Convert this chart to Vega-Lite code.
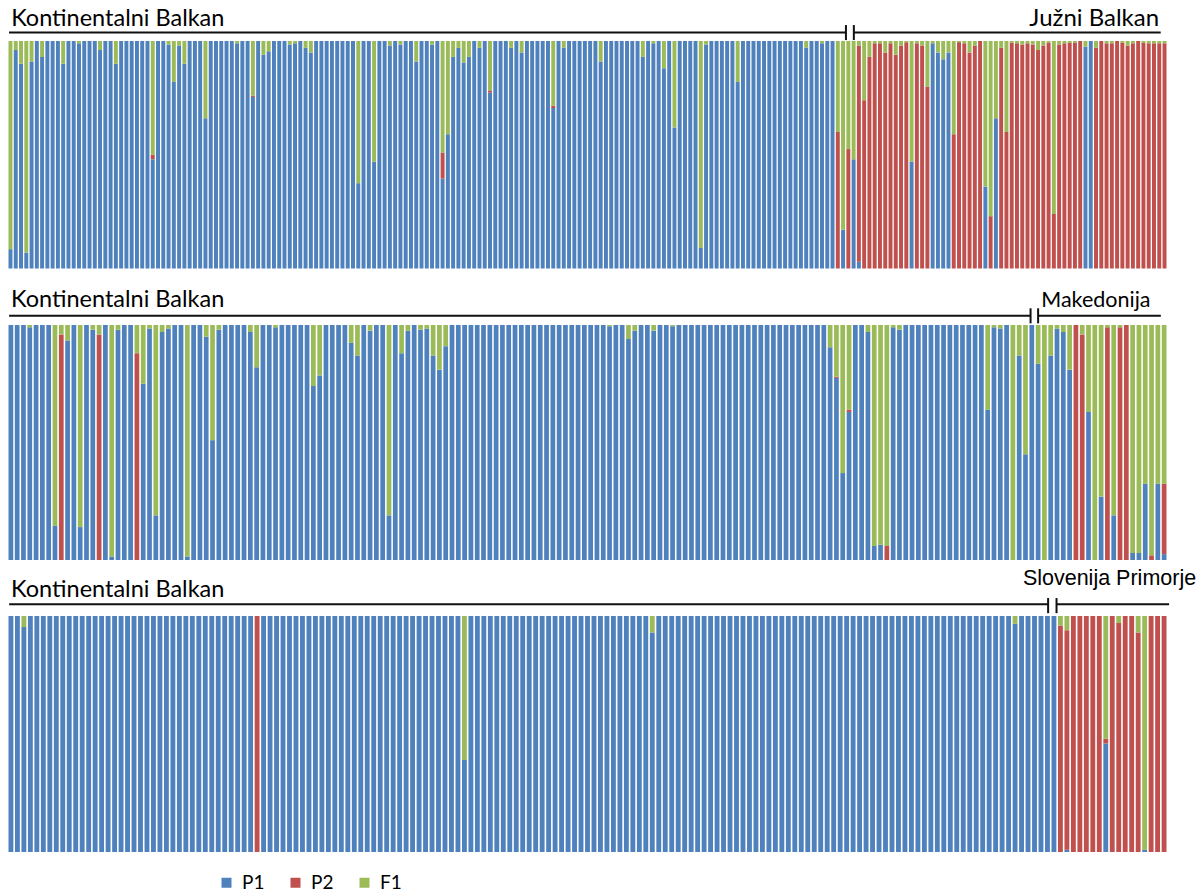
{
"$schema":"https://vega.github.io/schema/vega-lite/v6.json",
"background":"white",
"padding":{"left":7.5,"top":7,"right":0,"bottom":0},
"bounds":"flush",
"spacing":56,
"config":{"view":{"stroke":null}},
"datasets":{
"rank":[{"k":"P1","r":1},{"k":"P2","r":2},{"k":"F1","r":3}],
"groups":[
{"p":1,"g":"Kontinentalni Balkan","from":0.1,"to":159.1},
{"p":1,"g":"Južni Balkan","from":160.6,"to":218.9},
{"p":2,"g":"Kontinentalni Balkan","from":0.1,"to":162.4},
{"p":2,"g":"Makedonija","from":163.6,"to":183.1},
{"p":3,"g":"Kontinentalni Balkan","from":0.1,"to":160.7},
{"p":3,"g":"Slovenija Primorje","from":162.0,"to":179.4}
],
"p1":[
{"i":0,"P1":0.085,"P2":0,"F1":0.915},{"i":1,"P1":0.96,"P2":0,"F1":0.04},{"i":2,"P1":0.9,"P2":0,"F1":0.1},{"i":3,"P1":0.07,"P2":0,"F1":0.93},{"i":4,"P1":0.91,"P2":0,"F1":0.09},
{"i":5,"P1":1,"P2":0,"F1":0},{"i":6,"P1":0.93,"P2":0,"F1":0.07},{"i":7,"P1":1,"P2":0,"F1":0},{"i":8,"P1":1,"P2":0,"F1":0},{"i":9,"P1":1,"P2":0,"F1":0},
{"i":10,"P1":0.9,"P2":0,"F1":0.1},{"i":11,"P1":1,"P2":0,"F1":0},{"i":12,"P1":1,"P2":0,"F1":0},{"i":13,"P1":0.99,"P2":0,"F1":0.01},{"i":14,"P1":1,"P2":0,"F1":0},
{"i":15,"P1":1,"P2":0,"F1":0},{"i":16,"P1":1,"P2":0,"F1":0},{"i":17,"P1":0.96,"P2":0,"F1":0.04},{"i":18,"P1":1,"P2":0,"F1":0},{"i":19,"P1":1,"P2":0,"F1":0},
{"i":20,"P1":0.9,"P2":0,"F1":0.1},{"i":21,"P1":1,"P2":0,"F1":0},{"i":22,"P1":1,"P2":0,"F1":0},{"i":23,"P1":1,"P2":0,"F1":0},{"i":24,"P1":1,"P2":0,"F1":0},
{"i":25,"P1":1,"P2":0,"F1":0},{"i":26,"P1":1,"P2":0,"F1":0},{"i":27,"P1":0.48,"P2":0.02,"F1":0.5},{"i":28,"P1":1,"P2":0,"F1":0},{"i":29,"P1":1,"P2":0,"F1":0},
{"i":30,"P1":0.985,"P2":0,"F1":0.015},{"i":31,"P1":0.82,"P2":0,"F1":0.18},{"i":32,"P1":0.98,"P2":0,"F1":0.02},{"i":33,"P1":0.9,"P2":0,"F1":0.1},{"i":34,"P1":1,"P2":0,"F1":0},
{"i":35,"P1":1,"P2":0,"F1":0},{"i":36,"P1":1,"P2":0,"F1":0},{"i":37,"P1":0.66,"P2":0,"F1":0.34},{"i":38,"P1":1,"P2":0,"F1":0},{"i":39,"P1":1,"P2":0,"F1":0},
{"i":40,"P1":1,"P2":0,"F1":0},{"i":41,"P1":1,"P2":0,"F1":0},{"i":42,"P1":1,"P2":0,"F1":0},{"i":43,"P1":0.99,"P2":0,"F1":0.01},{"i":44,"P1":1,"P2":0,"F1":0},
{"i":45,"P1":1,"P2":0,"F1":0},{"i":46,"P1":0.754,"P2":0.006,"F1":0.24},{"i":47,"P1":1,"P2":0,"F1":0},{"i":48,"P1":0.94,"P2":0,"F1":0.06},{"i":49,"P1":0.955,"P2":0,"F1":0.045},
{"i":50,"P1":1,"P2":0,"F1":0},{"i":51,"P1":1,"P2":0,"F1":0},{"i":52,"P1":1,"P2":0,"F1":0},{"i":53,"P1":0.985,"P2":0,"F1":0.015},{"i":54,"P1":0.99,"P2":0,"F1":0.01},
{"i":55,"P1":1,"P2":0,"F1":0},{"i":56,"P1":0.97,"P2":0,"F1":0.03},{"i":57,"P1":0.95,"P2":0,"F1":0.05},{"i":58,"P1":1,"P2":0,"F1":0},{"i":59,"P1":1,"P2":0,"F1":0},
{"i":60,"P1":1,"P2":0,"F1":0},{"i":61,"P1":1,"P2":0,"F1":0},{"i":62,"P1":1,"P2":0,"F1":0},{"i":63,"P1":1,"P2":0,"F1":0},{"i":64,"P1":1,"P2":0,"F1":0},
{"i":65,"P1":1,"P2":0,"F1":0},{"i":66,"P1":0.375,"P2":0,"F1":0.625},{"i":67,"P1":1,"P2":0,"F1":0},{"i":68,"P1":1,"P2":0,"F1":0},{"i":69,"P1":0.47,"P2":0,"F1":0.53},
{"i":70,"P1":1,"P2":0,"F1":0},{"i":71,"P1":1,"P2":0,"F1":0},{"i":72,"P1":0.98,"P2":0,"F1":0.02},{"i":73,"P1":1,"P2":0,"F1":0},{"i":74,"P1":0.985,"P2":0,"F1":0.015},
{"i":75,"P1":1,"P2":0,"F1":0},{"i":76,"P1":1,"P2":0,"F1":0},{"i":77,"P1":0.91,"P2":0,"F1":0.09},{"i":78,"P1":1,"P2":0,"F1":0},{"i":79,"P1":1,"P2":0,"F1":0},
{"i":80,"P1":0.985,"P2":0,"F1":0.015},{"i":81,"P1":1,"P2":0,"F1":0},{"i":82,"P1":0.395,"P2":0.115,"F1":0.49},{"i":83,"P1":0.59,"P2":0,"F1":0.41},{"i":84,"P1":0.93,"P2":0,"F1":0.07},
{"i":85,"P1":0.97,"P2":0,"F1":0.03},{"i":86,"P1":0.905,"P2":0,"F1":0.095},{"i":87,"P1":0.93,"P2":0,"F1":0.07},{"i":88,"P1":1,"P2":0,"F1":0},{"i":89,"P1":0.97,"P2":0,"F1":0.03},
{"i":90,"P1":1,"P2":0,"F1":0},{"i":91,"P1":0.773,"P2":0.01,"F1":0.217},{"i":92,"P1":1,"P2":0,"F1":0},{"i":93,"P1":1,"P2":0,"F1":0},{"i":94,"P1":1,"P2":0,"F1":0},
{"i":95,"P1":0.97,"P2":0,"F1":0.03},{"i":96,"P1":1,"P2":0,"F1":0},{"i":97,"P1":0.95,"P2":0,"F1":0.05},{"i":98,"P1":1,"P2":0,"F1":0},{"i":99,"P1":1,"P2":0,"F1":0},
{"i":100,"P1":1,"P2":0,"F1":0},{"i":101,"P1":1,"P2":0,"F1":0},{"i":102,"P1":1,"P2":0,"F1":0},{"i":103,"P1":0.705,"P2":0.01,"F1":0.285},{"i":104,"P1":1,"P2":0,"F1":0},
{"i":105,"P1":0.97,"P2":0,"F1":0.03},{"i":106,"P1":1,"P2":0,"F1":0},{"i":107,"P1":1,"P2":0,"F1":0},{"i":108,"P1":1,"P2":0,"F1":0},{"i":109,"P1":1,"P2":0,"F1":0},
{"i":110,"P1":1,"P2":0,"F1":0},{"i":111,"P1":1,"P2":0,"F1":0},{"i":112,"P1":0.91,"P2":0,"F1":0.09},{"i":113,"P1":1,"P2":0,"F1":0},{"i":114,"P1":1,"P2":0,"F1":0},
{"i":115,"P1":1,"P2":0,"F1":0},{"i":116,"P1":1,"P2":0,"F1":0},{"i":117,"P1":1,"P2":0,"F1":0},{"i":118,"P1":1,"P2":0,"F1":0},{"i":119,"P1":1,"P2":0,"F1":0},
{"i":120,"P1":0.93,"P2":0,"F1":0.07},{"i":121,"P1":1,"P2":0,"F1":0},{"i":122,"P1":0.99,"P2":0,"F1":0.01},{"i":123,"P1":1,"P2":0,"F1":0},{"i":124,"P1":0.88,"P2":0,"F1":0.12},
{"i":125,"P1":1,"P2":0,"F1":0},{"i":126,"P1":0.62,"P2":0,"F1":0.38},{"i":127,"P1":1,"P2":0,"F1":0},{"i":128,"P1":1,"P2":0,"F1":0},{"i":129,"P1":1,"P2":0,"F1":0},
{"i":130,"P1":1,"P2":0,"F1":0},{"i":131,"P1":0.09,"P2":0,"F1":0.91},{"i":132,"P1":0.985,"P2":0,"F1":0.015},{"i":133,"P1":1,"P2":0,"F1":0},{"i":134,"P1":1,"P2":0,"F1":0},
{"i":135,"P1":1,"P2":0,"F1":0},{"i":136,"P1":1,"P2":0,"F1":0},{"i":137,"P1":1,"P2":0,"F1":0},{"i":138,"P1":0.82,"P2":0,"F1":0.18},{"i":139,"P1":1,"P2":0,"F1":0},
{"i":140,"P1":1,"P2":0,"F1":0},{"i":141,"P1":1,"P2":0,"F1":0},{"i":142,"P1":1,"P2":0,"F1":0},{"i":143,"P1":1,"P2":0,"F1":0},{"i":144,"P1":1,"P2":0,"F1":0},
{"i":145,"P1":1,"P2":0,"F1":0},{"i":146,"P1":1,"P2":0,"F1":0},{"i":147,"P1":1,"P2":0,"F1":0},{"i":148,"P1":1,"P2":0,"F1":0},{"i":149,"P1":1,"P2":0,"F1":0},
{"i":150,"P1":1,"P2":0,"F1":0},{"i":151,"P1":0.97,"P2":0,"F1":0.03},{"i":152,"P1":1,"P2":0,"F1":0},{"i":153,"P1":1,"P2":0,"F1":0},{"i":154,"P1":0.99,"P2":0,"F1":0.01},
{"i":155,"P1":1,"P2":0,"F1":0},{"i":156,"P1":1,"P2":0,"F1":0},{"i":157,"P1":0,"P2":0.6,"F1":0.4},{"i":158,"P1":0.17,"P2":0,"F1":0.83},{"i":159,"P1":0,"P2":0.525,"F1":0.475},
{"i":160,"P1":0.48,"P2":0,"F1":0.52},{"i":161,"P1":0.03,"P2":0.95,"F1":0.02},{"i":162,"P1":0,"P2":0.74,"F1":0.26},{"i":163,"P1":0,"P2":0.93,"F1":0.07},{"i":164,"P1":0,"P2":0.99,"F1":0.01},
{"i":165,"P1":0,"P2":0.99,"F1":0.01},{"i":166,"P1":0,"P2":0.95,"F1":0.05},{"i":167,"P1":0,"P2":0.99,"F1":0.01},{"i":168,"P1":0,"P2":0.94,"F1":0.06},{"i":169,"P1":0,"P2":0.98,"F1":0.02},
{"i":170,"P1":0,"P2":0.995,"F1":0.005},{"i":171,"P1":0.47,"P2":0,"F1":0.53},{"i":172,"P1":0,"P2":0.99,"F1":0.01},{"i":173,"P1":0,"P2":0.98,"F1":0.02},{"i":174,"P1":0,"P2":0.8,"F1":0.2},
{"i":175,"P1":0.99,"P2":0,"F1":0.01},{"i":176,"P1":0.95,"P2":0,"F1":0.05},{"i":177,"P1":0.92,"P2":0,"F1":0.08},{"i":178,"P1":0.95,"P2":0,"F1":0.05},{"i":179,"P1":0,"P2":0.59,"F1":0.41},
{"i":180,"P1":0,"P2":0.995,"F1":0.005},{"i":181,"P1":0,"P2":0.99,"F1":0.01},{"i":182,"P1":0,"P2":0.95,"F1":0.05},{"i":183,"P1":0,"P2":0.98,"F1":0.02},{"i":184,"P1":0,"P2":1,"F1":0},
{"i":185,"P1":0.36,"P2":0,"F1":0.64},{"i":186,"P1":0,"P2":0.23,"F1":0.77},{"i":187,"P1":0.66,"P2":0,"F1":0.34},{"i":188,"P1":0,"P2":0.97,"F1":0.03},{"i":189,"P1":0,"P2":0.6,"F1":0.4},
{"i":190,"P1":0,"P2":0.993,"F1":0.007},{"i":191,"P1":0,"P2":0.99,"F1":0.01},{"i":192,"P1":0,"P2":0.985,"F1":0.015},{"i":193,"P1":0,"P2":0.99,"F1":0.01},{"i":194,"P1":0,"P2":0.985,"F1":0.015},
{"i":195,"P1":0,"P2":0.96,"F1":0.04},{"i":196,"P1":0,"P2":0.98,"F1":0.02},{"i":197,"P1":0,"P2":0.993,"F1":0.007},{"i":198,"P1":0,"P2":0.24,"F1":0.76},{"i":199,"P1":0,"P2":0.985,"F1":0.015},
{"i":200,"P1":0,"P2":0.99,"F1":0.01},{"i":201,"P1":0,"P2":0.993,"F1":0.007},{"i":202,"P1":0,"P2":0.993,"F1":0.007},{"i":203,"P1":0,"P2":1,"F1":0},{"i":204,"P1":0.975,"P2":0,"F1":0.025},
{"i":205,"P1":1,"P2":0,"F1":0},{"i":206,"P1":0,"P2":0.97,"F1":0.03},{"i":207,"P1":0,"P2":1,"F1":0},{"i":208,"P1":0,"P2":0.99,"F1":0.01},{"i":209,"P1":0,"P2":0.99,"F1":0.01},
{"i":210,"P1":0,"P2":1,"F1":0},{"i":211,"P1":0,"P2":0.993,"F1":0.007},{"i":212,"P1":0,"P2":0.98,"F1":0.02},{"i":213,"P1":0,"P2":0.99,"F1":0.01},{"i":214,"P1":0,"P2":1,"F1":0},
{"i":215,"P1":0,"P2":0.993,"F1":0.007},{"i":216,"P1":0,"P2":0.99,"F1":0.01},{"i":217,"P1":0,"P2":0.99,"F1":0.01},{"i":218,"P1":0,"P2":0.99,"F1":0.01},{"i":219,"P1":0,"P2":0.99,"F1":0.01}
],
"p2":[
{"i":0,"P1":1,"P2":0,"F1":0},{"i":1,"P1":1,"P2":0,"F1":0},{"i":2,"P1":1,"P2":0,"F1":0},{"i":3,"P1":0.99,"P2":0,"F1":0.01},{"i":4,"P1":1,"P2":0,"F1":0},
{"i":5,"P1":1,"P2":0,"F1":0},{"i":6,"P1":1,"P2":0,"F1":0},{"i":7,"P1":0.146,"P2":0,"F1":0.854},{"i":8,"P1":0,"P2":0.96,"F1":0.04},{"i":9,"P1":0.934,"P2":0,"F1":0.066},
{"i":10,"P1":1,"P2":0,"F1":0},{"i":11,"P1":0.14,"P2":0,"F1":0.86},{"i":12,"P1":1,"P2":0,"F1":0},{"i":13,"P1":0.98,"P2":0,"F1":0.02},{"i":14,"P1":0,"P2":0.96,"F1":0.04},
{"i":15,"P1":1,"P2":0,"F1":0},{"i":16,"P1":0.015,"P2":0,"F1":0.985},{"i":17,"P1":0.98,"P2":0,"F1":0.02},{"i":18,"P1":1,"P2":0,"F1":0},{"i":19,"P1":1,"P2":0,"F1":0},
{"i":20,"P1":0,"P2":0.88,"F1":0.12},{"i":21,"P1":0.75,"P2":0,"F1":0.25},{"i":22,"P1":0.985,"P2":0,"F1":0.015},{"i":23,"P1":0.19,"P2":0,"F1":0.81},{"i":24,"P1":0.97,"P2":0,"F1":0.03},
{"i":25,"P1":0.985,"P2":0,"F1":0.015},{"i":26,"P1":1,"P2":0,"F1":0},{"i":27,"P1":1,"P2":0,"F1":0},{"i":28,"P1":0.015,"P2":0,"F1":0.985},{"i":29,"P1":1,"P2":0,"F1":0},
{"i":30,"P1":1,"P2":0,"F1":0},{"i":31,"P1":0.95,"P2":0,"F1":0.05},{"i":32,"P1":0.51,"P2":0,"F1":0.49},{"i":33,"P1":0.98,"P2":0,"F1":0.02},{"i":34,"P1":1,"P2":0,"F1":0},
{"i":35,"P1":1,"P2":0,"F1":0},{"i":36,"P1":1,"P2":0,"F1":0},{"i":37,"P1":1,"P2":0,"F1":0},{"i":38,"P1":0.97,"P2":0,"F1":0.03},{"i":39,"P1":0.82,"P2":0,"F1":0.18},
{"i":40,"P1":1,"P2":0,"F1":0},{"i":41,"P1":1,"P2":0,"F1":0},{"i":42,"P1":0.99,"P2":0,"F1":0.01},{"i":43,"P1":1,"P2":0,"F1":0},{"i":44,"P1":1,"P2":0,"F1":0},
{"i":45,"P1":1,"P2":0,"F1":0},{"i":46,"P1":1,"P2":0,"F1":0},{"i":47,"P1":1,"P2":0,"F1":0},{"i":48,"P1":0.74,"P2":0,"F1":0.26},{"i":49,"P1":0.785,"P2":0,"F1":0.215},
{"i":50,"P1":1,"P2":0,"F1":0},{"i":51,"P1":1,"P2":0,"F1":0},{"i":52,"P1":1,"P2":0,"F1":0},{"i":53,"P1":1,"P2":0,"F1":0},{"i":54,"P1":0.924,"P2":0,"F1":0.076},
{"i":55,"P1":0.87,"P2":0,"F1":0.13},{"i":56,"P1":1,"P2":0,"F1":0},{"i":57,"P1":0.976,"P2":0,"F1":0.024},{"i":58,"P1":1,"P2":0,"F1":0},{"i":59,"P1":1,"P2":0,"F1":0},
{"i":60,"P1":0.19,"P2":0,"F1":0.81},{"i":61,"P1":1,"P2":0,"F1":0},{"i":62,"P1":0.88,"P2":0,"F1":0.12},{"i":63,"P1":0.975,"P2":0,"F1":0.025},{"i":64,"P1":1,"P2":0,"F1":0},
{"i":65,"P1":0.98,"P2":0,"F1":0.02},{"i":66,"P1":0.985,"P2":0,"F1":0.015},{"i":67,"P1":0.87,"P2":0,"F1":0.13},{"i":68,"P1":0.81,"P2":0,"F1":0.19},{"i":69,"P1":0.91,"P2":0,"F1":0.09},
{"i":70,"P1":1,"P2":0,"F1":0},{"i":71,"P1":1,"P2":0,"F1":0},{"i":72,"P1":1,"P2":0,"F1":0},{"i":73,"P1":1,"P2":0,"F1":0},{"i":74,"P1":1,"P2":0,"F1":0},
{"i":75,"P1":1,"P2":0,"F1":0},{"i":76,"P1":1,"P2":0,"F1":0},{"i":77,"P1":1,"P2":0,"F1":0},{"i":78,"P1":1,"P2":0,"F1":0},{"i":79,"P1":1,"P2":0,"F1":0},
{"i":80,"P1":1,"P2":0,"F1":0},{"i":81,"P1":1,"P2":0,"F1":0},{"i":82,"P1":1,"P2":0,"F1":0},{"i":83,"P1":1,"P2":0,"F1":0},{"i":84,"P1":1,"P2":0,"F1":0},
{"i":85,"P1":1,"P2":0,"F1":0},{"i":86,"P1":1,"P2":0,"F1":0},{"i":87,"P1":1,"P2":0,"F1":0},{"i":88,"P1":1,"P2":0,"F1":0},{"i":89,"P1":1,"P2":0,"F1":0},
{"i":90,"P1":1,"P2":0,"F1":0},{"i":91,"P1":1,"P2":0,"F1":0},{"i":92,"P1":1,"P2":0,"F1":0},{"i":93,"P1":1,"P2":0,"F1":0},{"i":94,"P1":1,"P2":0,"F1":0},
{"i":95,"P1":0.995,"P2":0,"F1":0.005},{"i":96,"P1":1,"P2":0,"F1":0},{"i":97,"P1":1,"P2":0,"F1":0},{"i":98,"P1":0.94,"P2":0,"F1":0.06},{"i":99,"P1":0.975,"P2":0,"F1":0.025},
{"i":100,"P1":1,"P2":0,"F1":0},{"i":101,"P1":1,"P2":0,"F1":0},{"i":102,"P1":0.976,"P2":0,"F1":0.024},{"i":103,"P1":1,"P2":0,"F1":0},{"i":104,"P1":1,"P2":0,"F1":0},
{"i":105,"P1":0.995,"P2":0,"F1":0.005},{"i":106,"P1":1,"P2":0,"F1":0},{"i":107,"P1":1,"P2":0,"F1":0},{"i":108,"P1":1,"P2":0,"F1":0},{"i":109,"P1":1,"P2":0,"F1":0},
{"i":110,"P1":1,"P2":0,"F1":0},{"i":111,"P1":1,"P2":0,"F1":0},{"i":112,"P1":1,"P2":0,"F1":0},{"i":113,"P1":1,"P2":0,"F1":0},{"i":114,"P1":1,"P2":0,"F1":0},
{"i":115,"P1":1,"P2":0,"F1":0},{"i":116,"P1":1,"P2":0,"F1":0},{"i":117,"P1":1,"P2":0,"F1":0},{"i":118,"P1":1,"P2":0,"F1":0},{"i":119,"P1":1,"P2":0,"F1":0},
{"i":120,"P1":1,"P2":0,"F1":0},{"i":121,"P1":1,"P2":0,"F1":0},{"i":122,"P1":1,"P2":0,"F1":0},{"i":123,"P1":1,"P2":0,"F1":0},{"i":124,"P1":1,"P2":0,"F1":0},
{"i":125,"P1":1,"P2":0,"F1":0},{"i":126,"P1":1,"P2":0,"F1":0},{"i":127,"P1":1,"P2":0,"F1":0},{"i":128,"P1":1,"P2":0,"F1":0},{"i":129,"P1":1,"P2":0,"F1":0},
{"i":130,"P1":0.905,"P2":0,"F1":0.095},{"i":131,"P1":0.775,"P2":0.005,"F1":0.22},{"i":132,"P1":0.37,"P2":0,"F1":0.63},{"i":133,"P1":0.63,"P2":0.01,"F1":0.36},{"i":134,"P1":1,"P2":0,"F1":0},
{"i":135,"P1":1,"P2":0,"F1":0},{"i":136,"P1":0.97,"P2":0,"F1":0.03},{"i":137,"P1":0.06,"P2":0,"F1":0.94},{"i":138,"P1":0.065,"P2":0,"F1":0.935},{"i":139,"P1":0,"P2":0.06,"F1":0.94},
{"i":140,"P1":0.99,"P2":0,"F1":0.01},{"i":141,"P1":0.98,"P2":0,"F1":0.02},{"i":142,"P1":1,"P2":0,"F1":0},{"i":143,"P1":1,"P2":0,"F1":0},{"i":144,"P1":1,"P2":0,"F1":0},
{"i":145,"P1":1,"P2":0,"F1":0},{"i":146,"P1":1,"P2":0,"F1":0},{"i":147,"P1":1,"P2":0,"F1":0},{"i":148,"P1":1,"P2":0,"F1":0},{"i":149,"P1":1,"P2":0,"F1":0},
{"i":150,"P1":1,"P2":0,"F1":0},{"i":151,"P1":1,"P2":0,"F1":0},{"i":152,"P1":1,"P2":0,"F1":0},{"i":153,"P1":1,"P2":0,"F1":0},{"i":154,"P1":1,"P2":0,"F1":0},
{"i":155,"P1":0.64,"P2":0,"F1":0.36},{"i":156,"P1":0.99,"P2":0,"F1":0.01},{"i":157,"P1":0.985,"P2":0,"F1":0.015},{"i":158,"P1":1,"P2":0,"F1":0},{"i":159,"P1":0,"P2":0,"F1":1},
{"i":160,"P1":0.87,"P2":0,"F1":0.13},{"i":161,"P1":0.45,"P2":0,"F1":0.55},{"i":162,"P1":1,"P2":0,"F1":0},{"i":163,"P1":0.835,"P2":0,"F1":0.165},{"i":164,"P1":0,"P2":0,"F1":1},
{"i":165,"P1":0.87,"P2":0,"F1":0.13},{"i":166,"P1":0.985,"P2":0,"F1":0.015},{"i":167,"P1":0.97,"P2":0,"F1":0.03},{"i":168,"P1":0.81,"P2":0,"F1":0.19},{"i":169,"P1":0,"P2":1,"F1":0},
{"i":170,"P1":0,"P2":0.96,"F1":0.04},{"i":171,"P1":0.63,"P2":0,"F1":0.37},{"i":172,"P1":0,"P2":0,"F1":1},{"i":173,"P1":0.27,"P2":0,"F1":0.73},{"i":174,"P1":0,"P2":0.99,"F1":0.01},
{"i":175,"P1":0.19,"P2":0,"F1":0.81},{"i":176,"P1":0,"P2":0.99,"F1":0.01},{"i":177,"P1":0,"P2":1,"F1":0},{"i":178,"P1":0.03,"P2":0,"F1":0.97},{"i":179,"P1":0.03,"P2":0,"F1":0.97},
{"i":180,"P1":0.325,"P2":0,"F1":0.675},{"i":181,"P1":0,"P2":0.02,"F1":0.98},{"i":182,"P1":0.325,"P2":0,"F1":0.675},{"i":183,"P1":0.025,"P2":0.3,"F1":0.675}
],
"p3":[
{"i":0,"P1":1,"P2":0,"F1":0},{"i":1,"P1":1,"P2":0,"F1":0},{"i":2,"P1":0.953,"P2":0,"F1":0.047},{"i":3,"P1":1,"P2":0,"F1":0},{"i":4,"P1":1,"P2":0,"F1":0},
{"i":5,"P1":1,"P2":0,"F1":0},{"i":6,"P1":1,"P2":0,"F1":0},{"i":7,"P1":1,"P2":0,"F1":0},{"i":8,"P1":1,"P2":0,"F1":0},{"i":9,"P1":1,"P2":0,"F1":0},
{"i":10,"P1":1,"P2":0,"F1":0},{"i":11,"P1":1,"P2":0,"F1":0},{"i":12,"P1":1,"P2":0,"F1":0},{"i":13,"P1":1,"P2":0,"F1":0},{"i":14,"P1":1,"P2":0,"F1":0},
{"i":15,"P1":1,"P2":0,"F1":0},{"i":16,"P1":1,"P2":0,"F1":0},{"i":17,"P1":1,"P2":0,"F1":0},{"i":18,"P1":1,"P2":0,"F1":0},{"i":19,"P1":1,"P2":0,"F1":0},
{"i":20,"P1":1,"P2":0,"F1":0},{"i":21,"P1":1,"P2":0,"F1":0},{"i":22,"P1":1,"P2":0,"F1":0},{"i":23,"P1":1,"P2":0,"F1":0},{"i":24,"P1":1,"P2":0,"F1":0},
{"i":25,"P1":1,"P2":0,"F1":0},{"i":26,"P1":1,"P2":0,"F1":0},{"i":27,"P1":1,"P2":0,"F1":0},{"i":28,"P1":1,"P2":0,"F1":0},{"i":29,"P1":1,"P2":0,"F1":0},
{"i":30,"P1":1,"P2":0,"F1":0},{"i":31,"P1":1,"P2":0,"F1":0},{"i":32,"P1":1,"P2":0,"F1":0},{"i":33,"P1":1,"P2":0,"F1":0},{"i":34,"P1":1,"P2":0,"F1":0},
{"i":35,"P1":1,"P2":0,"F1":0},{"i":36,"P1":1,"P2":0,"F1":0},{"i":37,"P1":1,"P2":0,"F1":0},{"i":38,"P1":0,"P2":1,"F1":0},{"i":39,"P1":1,"P2":0,"F1":0},
{"i":40,"P1":1,"P2":0,"F1":0},{"i":41,"P1":1,"P2":0,"F1":0},{"i":42,"P1":1,"P2":0,"F1":0},{"i":43,"P1":1,"P2":0,"F1":0},{"i":44,"P1":1,"P2":0,"F1":0},
{"i":45,"P1":1,"P2":0,"F1":0},{"i":46,"P1":1,"P2":0,"F1":0},{"i":47,"P1":1,"P2":0,"F1":0},{"i":48,"P1":1,"P2":0,"F1":0},{"i":49,"P1":1,"P2":0,"F1":0},
{"i":50,"P1":1,"P2":0,"F1":0},{"i":51,"P1":1,"P2":0,"F1":0},{"i":52,"P1":1,"P2":0,"F1":0},{"i":53,"P1":1,"P2":0,"F1":0},{"i":54,"P1":1,"P2":0,"F1":0},
{"i":55,"P1":1,"P2":0,"F1":0},{"i":56,"P1":1,"P2":0,"F1":0},{"i":57,"P1":1,"P2":0,"F1":0},{"i":58,"P1":1,"P2":0,"F1":0},{"i":59,"P1":1,"P2":0,"F1":0},
{"i":60,"P1":1,"P2":0,"F1":0},{"i":61,"P1":1,"P2":0,"F1":0},{"i":62,"P1":1,"P2":0,"F1":0},{"i":63,"P1":1,"P2":0,"F1":0},{"i":64,"P1":1,"P2":0,"F1":0},
{"i":65,"P1":1,"P2":0,"F1":0},{"i":66,"P1":1,"P2":0,"F1":0},{"i":67,"P1":1,"P2":0,"F1":0},{"i":68,"P1":1,"P2":0,"F1":0},{"i":69,"P1":1,"P2":0,"F1":0},
{"i":70,"P1":0.39,"P2":0,"F1":0.61},{"i":71,"P1":1,"P2":0,"F1":0},{"i":72,"P1":1,"P2":0,"F1":0},{"i":73,"P1":1,"P2":0,"F1":0},{"i":74,"P1":1,"P2":0,"F1":0},
{"i":75,"P1":1,"P2":0,"F1":0},{"i":76,"P1":1,"P2":0,"F1":0},{"i":77,"P1":1,"P2":0,"F1":0},{"i":78,"P1":1,"P2":0,"F1":0},{"i":79,"P1":1,"P2":0,"F1":0},
{"i":80,"P1":1,"P2":0,"F1":0},{"i":81,"P1":1,"P2":0,"F1":0},{"i":82,"P1":1,"P2":0,"F1":0},{"i":83,"P1":1,"P2":0,"F1":0},{"i":84,"P1":1,"P2":0,"F1":0},
{"i":85,"P1":1,"P2":0,"F1":0},{"i":86,"P1":1,"P2":0,"F1":0},{"i":87,"P1":1,"P2":0,"F1":0},{"i":88,"P1":1,"P2":0,"F1":0},{"i":89,"P1":1,"P2":0,"F1":0},
{"i":90,"P1":1,"P2":0,"F1":0},{"i":91,"P1":1,"P2":0,"F1":0},{"i":92,"P1":1,"P2":0,"F1":0},{"i":93,"P1":1,"P2":0,"F1":0},{"i":94,"P1":1,"P2":0,"F1":0},
{"i":95,"P1":1,"P2":0,"F1":0},{"i":96,"P1":1,"P2":0,"F1":0},{"i":97,"P1":1,"P2":0,"F1":0},{"i":98,"P1":1,"P2":0,"F1":0},{"i":99,"P1":0.93,"P2":0,"F1":0.07},
{"i":100,"P1":1,"P2":0,"F1":0},{"i":101,"P1":1,"P2":0,"F1":0},{"i":102,"P1":1,"P2":0,"F1":0},{"i":103,"P1":1,"P2":0,"F1":0},{"i":104,"P1":1,"P2":0,"F1":0},
{"i":105,"P1":1,"P2":0,"F1":0},{"i":106,"P1":1,"P2":0,"F1":0},{"i":107,"P1":1,"P2":0,"F1":0},{"i":108,"P1":1,"P2":0,"F1":0},{"i":109,"P1":1,"P2":0,"F1":0},
{"i":110,"P1":1,"P2":0,"F1":0},{"i":111,"P1":1,"P2":0,"F1":0},{"i":112,"P1":1,"P2":0,"F1":0},{"i":113,"P1":1,"P2":0,"F1":0},{"i":114,"P1":1,"P2":0,"F1":0},
{"i":115,"P1":1,"P2":0,"F1":0},{"i":116,"P1":1,"P2":0,"F1":0},{"i":117,"P1":1,"P2":0,"F1":0},{"i":118,"P1":1,"P2":0,"F1":0},{"i":119,"P1":1,"P2":0,"F1":0},
{"i":120,"P1":1,"P2":0,"F1":0},{"i":121,"P1":1,"P2":0,"F1":0},{"i":122,"P1":1,"P2":0,"F1":0},{"i":123,"P1":1,"P2":0,"F1":0},{"i":124,"P1":1,"P2":0,"F1":0},
{"i":125,"P1":1,"P2":0,"F1":0},{"i":126,"P1":1,"P2":0,"F1":0},{"i":127,"P1":1,"P2":0,"F1":0},{"i":128,"P1":1,"P2":0,"F1":0},{"i":129,"P1":1,"P2":0,"F1":0},
{"i":130,"P1":1,"P2":0,"F1":0},{"i":131,"P1":1,"P2":0,"F1":0},{"i":132,"P1":1,"P2":0,"F1":0},{"i":133,"P1":1,"P2":0,"F1":0},{"i":134,"P1":1,"P2":0,"F1":0},
{"i":135,"P1":1,"P2":0,"F1":0},{"i":136,"P1":1,"P2":0,"F1":0},{"i":137,"P1":1,"P2":0,"F1":0},{"i":138,"P1":1,"P2":0,"F1":0},{"i":139,"P1":1,"P2":0,"F1":0},
{"i":140,"P1":1,"P2":0,"F1":0},{"i":141,"P1":1,"P2":0,"F1":0},{"i":142,"P1":1,"P2":0,"F1":0},{"i":143,"P1":1,"P2":0,"F1":0},{"i":144,"P1":1,"P2":0,"F1":0},
{"i":145,"P1":1,"P2":0,"F1":0},{"i":146,"P1":1,"P2":0,"F1":0},{"i":147,"P1":1,"P2":0,"F1":0},{"i":148,"P1":1,"P2":0,"F1":0},{"i":149,"P1":1,"P2":0,"F1":0},
{"i":150,"P1":1,"P2":0,"F1":0},{"i":151,"P1":1,"P2":0,"F1":0},{"i":152,"P1":1,"P2":0,"F1":0},{"i":153,"P1":1,"P2":0,"F1":0},{"i":154,"P1":1,"P2":0,"F1":0},
{"i":155,"P1":0.967,"P2":0,"F1":0.033},{"i":156,"P1":1,"P2":0,"F1":0},{"i":157,"P1":1,"P2":0,"F1":0},{"i":158,"P1":1,"P2":0,"F1":0},{"i":159,"P1":1,"P2":0,"F1":0},
{"i":160,"P1":1,"P2":0,"F1":0},{"i":161,"P1":1,"P2":0,"F1":0},{"i":162,"P1":0,"P2":0.96,"F1":0.04},{"i":163,"P1":0.01,"P2":0.93,"F1":0.06},{"i":164,"P1":0,"P2":1,"F1":0},
{"i":165,"P1":0,"P2":1,"F1":0},{"i":166,"P1":0,"P2":1,"F1":0},{"i":167,"P1":0,"P2":1,"F1":0},{"i":168,"P1":0,"P2":1,"F1":0},{"i":169,"P1":0.46,"P2":0.02,"F1":0.52},
{"i":170,"P1":0,"P2":1,"F1":0},{"i":171,"P1":0,"P2":0.97,"F1":0.03},{"i":172,"P1":0,"P2":1,"F1":0},{"i":173,"P1":0,"P2":1,"F1":0},{"i":174,"P1":0,"P2":0.93,"F1":0.07},
{"i":175,"P1":0.01,"P2":0,"F1":0.99},{"i":176,"P1":0,"P2":1,"F1":0},{"i":177,"P1":0,"P2":1,"F1":0},{"i":178,"P1":0,"P2":1,"F1":0}
]
},
"vconcat":[
{
"width":1158,"height":227.5,
"resolve":{"scale":{"x":"independent"}},
"layer":[
{"data":{"name":"p1"},
"transform":[{"fold":["P1","P2","F1"],"as":["k","v"]},{"lookup":"k","from":{"data":{"name":"rank"},"key":"k","fields":["r"]}}],
"mark":{"type":"bar"},
"encoding":{
"x":{"field":"i","type":"ordinal","axis":null,"scale":{"paddingInner":0.25,"paddingOuter":0}},
"y":{"field":"v","type":"quantitative","stack":"zero","axis":null,"scale":{"domain":[0,1],"nice":false}},
"color":{"field":"k","type":"nominal","scale":{"domain":["P1","P2","F1"],"range":["#4F81BD","#C0504D","#9BBB59"]},"legend":{"orient":"none","legendX":208.5,"legendY":832,"direction":"horizontal","title":null,"symbolType":"square","symbolSize":100,"symbolStrokeWidth":0,"labelFont":"Lato","labelFontSize":19,"labelColor":"#000","columnPadding":21,"labelOffset":6}},
"order":{"field":"r","type":"quantitative"}}},
{"data":{"name":"groups"},"transform":[{"filter":"datum.p == 1"}],
"layer":[
{"mark":{"type":"rule","color":"#111","strokeWidth":2},"encoding":{"x":{"field":"from","type":"quantitative","axis":null,"scale":{"domain":[0,220],"nice":false,"zero":false}},"x2":{"field":"to"},"y":{"datum":1.037,"type":"quantitative","axis":null,"scale":{"domain":[0,1],"nice":false}}}},
{"transform":[{"filter":"datum.g == 'Kontinentalni Balkan'"}],"mark":{"type":"rule","color":"#111","strokeWidth":2},"encoding":{"x":{"field":"to","type":"quantitative","axis":null,"scale":{"domain":[0,220],"nice":false,"zero":false}},"y":{"datum":1.004,"type":"quantitative","axis":null,"scale":{"domain":[0,1],"nice":false}},"y2":{"datum":1.07}}},
{"transform":[{"filter":"datum.g != 'Kontinentalni Balkan'"}],"mark":{"type":"rule","color":"#111","strokeWidth":2},"encoding":{"x":{"field":"from","type":"quantitative","axis":null,"scale":{"domain":[0,220],"nice":false,"zero":false}},"y":{"datum":1.004,"type":"quantitative","axis":null,"scale":{"domain":[0,1],"nice":false}},"y2":{"datum":1.07}}},
{"transform":[{"filter":"datum.g == 'Kontinentalni Balkan'"}],"mark":{"type":"text","align":"left","baseline":"alphabetic","font":"Lato","fontSize":23.5,"color":"#000"},"encoding":{"x":{"datum":0.5,"type":"quantitative","axis":null,"scale":{"domain":[0,220],"nice":false,"zero":false}},"y":{"datum":1.0646,"type":"quantitative","axis":null,"scale":{"domain":[0,1],"nice":false}},"text":{"field":"g"}}},
{"transform":[{"filter":"datum.g != 'Kontinentalni Balkan'"}],"mark":{"type":"text","align":"right","baseline":"alphabetic","font":"Lato","fontSize":24,"color":"#000"},"encoding":{"x":{"datum":218.6,"type":"quantitative","axis":null,"scale":{"domain":[0,220],"nice":false,"zero":false}},"y":{"datum":1.0646,"type":"quantitative","axis":null,"scale":{"domain":[0,1],"nice":false}},"text":{"field":"g"}}}
]}
]
},
{
"width":1158,"height":235,
"resolve":{"scale":{"x":"independent"}},
"layer":[
{"data":{"name":"p2"},
"transform":[{"fold":["P1","P2","F1"],"as":["k","v"]},{"lookup":"k","from":{"data":{"name":"rank"},"key":"k","fields":["r"]}}],
"mark":{"type":"bar"},
"encoding":{
"x":{"field":"i","type":"ordinal","axis":null,"scale":{"paddingInner":0.25,"paddingOuter":0}},
"y":{"field":"v","type":"quantitative","stack":"zero","axis":null,"scale":{"domain":[0,1],"nice":false}},
"color":{"field":"k","type":"nominal","scale":{"domain":["P1","P2","F1"],"range":["#4F81BD","#C0504D","#9BBB59"]},"legend":{"orient":"none","legendX":208.5,"legendY":832,"direction":"horizontal","title":null,"symbolType":"square","symbolSize":100,"symbolStrokeWidth":0,"labelFont":"Lato","labelFontSize":19,"labelColor":"#000","columnPadding":21,"labelOffset":6}},
"order":{"field":"r","type":"quantitative"}}},
{"data":{"name":"groups"},"transform":[{"filter":"datum.p == 2"}],
"layer":[
{"mark":{"type":"rule","color":"#111","strokeWidth":2},"encoding":{"x":{"field":"from","type":"quantitative","axis":null,"scale":{"domain":[0,184],"nice":false,"zero":false}},"x2":{"field":"to"},"y":{"datum":1.039,"type":"quantitative","axis":null,"scale":{"domain":[0,1],"nice":false}}}},
{"transform":[{"filter":"datum.g == 'Kontinentalni Balkan'"}],"mark":{"type":"rule","color":"#111","strokeWidth":2},"encoding":{"x":{"field":"to","type":"quantitative","axis":null,"scale":{"domain":[0,184],"nice":false,"zero":false}},"y":{"datum":1.007,"type":"quantitative","axis":null,"scale":{"domain":[0,1],"nice":false}},"y2":{"datum":1.071}}},
{"transform":[{"filter":"datum.g != 'Kontinentalni Balkan'"}],"mark":{"type":"rule","color":"#111","strokeWidth":2},"encoding":{"x":{"field":"from","type":"quantitative","axis":null,"scale":{"domain":[0,184],"nice":false,"zero":false}},"y":{"datum":1.007,"type":"quantitative","axis":null,"scale":{"domain":[0,1],"nice":false}},"y2":{"datum":1.071}}},
{"transform":[{"filter":"datum.g == 'Kontinentalni Balkan'"}],"mark":{"type":"text","align":"left","baseline":"alphabetic","font":"Lato","fontSize":23.5,"color":"#000"},"encoding":{"x":{"datum":0.4,"type":"quantitative","axis":null,"scale":{"domain":[0,184],"nice":false,"zero":false}},"y":{"datum":1.077,"type":"quantitative","axis":null,"scale":{"domain":[0,1],"nice":false}},"text":{"field":"g"}}},
{"transform":[{"filter":"datum.g != 'Kontinentalni Balkan'"}],"mark":{"type":"text","align":"left","baseline":"alphabetic","font":"Lato","fontSize":21.5,"color":"#000"},"encoding":{"x":{"datum":164.1,"type":"quantitative","axis":null,"scale":{"domain":[0,184],"nice":false,"zero":false}},"y":{"datum":1.077,"type":"quantitative","axis":null,"scale":{"domain":[0,1],"nice":false}},"text":{"field":"g"}}}
]}
]
},
{
"width":1158,"height":236,
"resolve":{"scale":{"x":"independent"}},
"layer":[
{"data":{"name":"p3"},
"transform":[{"fold":["P1","P2","F1"],"as":["k","v"]},{"lookup":"k","from":{"data":{"name":"rank"},"key":"k","fields":["r"]}}],
"mark":{"type":"bar"},
"encoding":{
"x":{"field":"i","type":"ordinal","axis":null,"scale":{"paddingInner":0.25,"paddingOuter":0}},
"y":{"field":"v","type":"quantitative","stack":"zero","axis":null,"scale":{"domain":[0,1],"nice":false}},
"color":{"field":"k","type":"nominal","scale":{"domain":["P1","P2","F1"],"range":["#4F81BD","#C0504D","#9BBB59"]},"legend":{"orient":"none","legendX":208.5,"legendY":832,"direction":"horizontal","title":null,"symbolType":"square","symbolSize":100,"symbolStrokeWidth":0,"labelFont":"Lato","labelFontSize":19,"labelColor":"#000","columnPadding":21,"labelOffset":6}},
"order":{"field":"r","type":"quantitative"}}},
{"data":{"name":"groups"},"transform":[{"filter":"datum.p == 3"}],
"layer":[
{"mark":{"type":"rule","color":"#111","strokeWidth":2},"encoding":{"x":{"field":"from","type":"quantitative","axis":null,"scale":{"domain":[0,179],"nice":false,"zero":false}},"x2":{"field":"to"},"y":{"datum":1.05,"type":"quantitative","axis":null,"scale":{"domain":[0,1],"nice":false}}}},
{"transform":[{"filter":"datum.g == 'Kontinentalni Balkan'"}],"mark":{"type":"rule","color":"#111","strokeWidth":2},"encoding":{"x":{"field":"to","type":"quantitative","axis":null,"scale":{"domain":[0,179],"nice":false,"zero":false}},"y":{"datum":1.012,"type":"quantitative","axis":null,"scale":{"domain":[0,1],"nice":false}},"y2":{"datum":1.076}}},
{"transform":[{"filter":"datum.g != 'Kontinentalni Balkan'"}],"mark":{"type":"rule","color":"#111","strokeWidth":2},"encoding":{"x":{"field":"from","type":"quantitative","axis":null,"scale":{"domain":[0,179],"nice":false,"zero":false}},"y":{"datum":1.012,"type":"quantitative","axis":null,"scale":{"domain":[0,1],"nice":false}},"y2":{"datum":1.076}}},
{"transform":[{"filter":"datum.g == 'Kontinentalni Balkan'"}],"mark":{"type":"text","align":"left","baseline":"alphabetic","font":"Lato","fontSize":23.5,"color":"#000"},"encoding":{"x":{"datum":0.4,"type":"quantitative","axis":null,"scale":{"domain":[0,179],"nice":false,"zero":false}},"y":{"datum":1.081,"type":"quantitative","axis":null,"scale":{"domain":[0,1],"nice":false}},"text":{"field":"g"}}},
{"transform":[{"filter":"datum.g != 'Kontinentalni Balkan'"}],"mark":{"type":"text","align":"left","baseline":"alphabetic","font":"Liberation Sans","fontSize":21.5,"color":"#000"},"encoding":{"x":{"datum":156.8,"type":"quantitative","axis":null,"scale":{"domain":[0,179],"nice":false,"zero":false}},"y":{"datum":1.132,"type":"quantitative","axis":null,"scale":{"domain":[0,1],"nice":false}},"text":{"field":"g"}}}
]}
]
}
]
}
